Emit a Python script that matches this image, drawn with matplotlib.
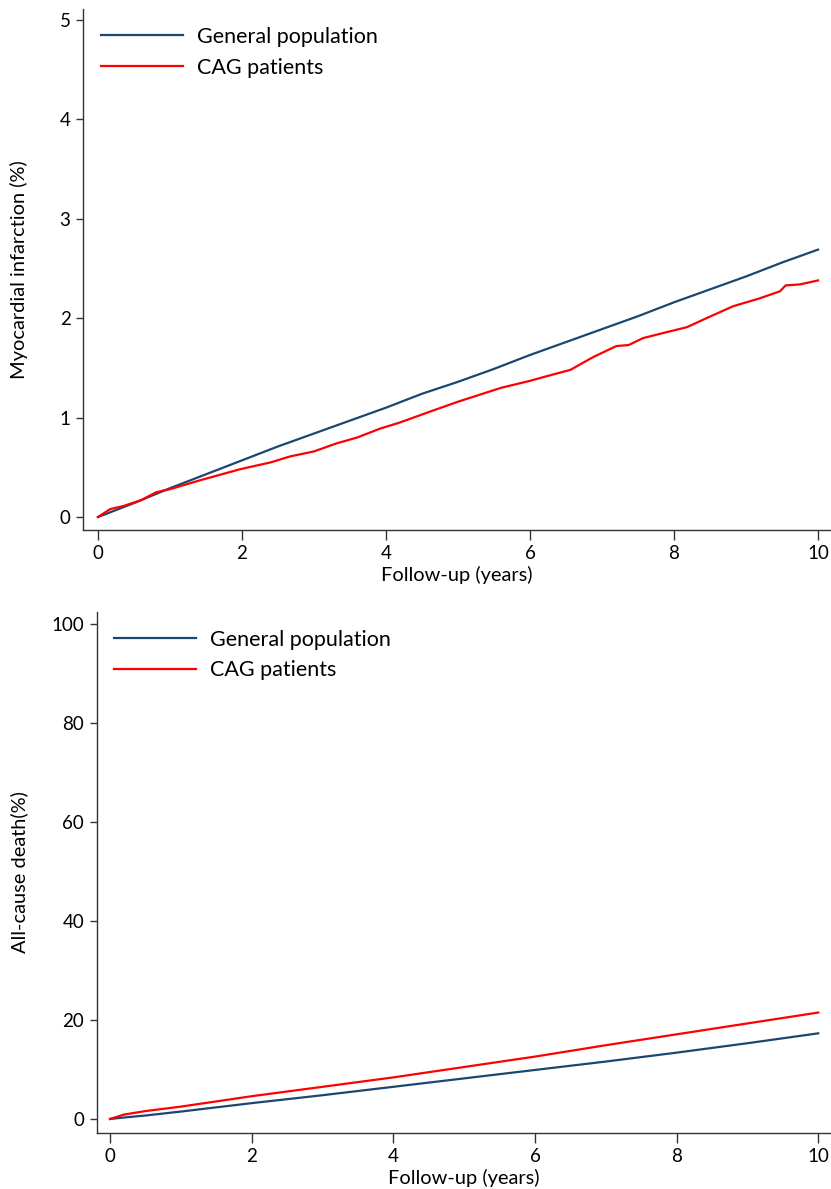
import matplotlib.pyplot as plt

plt.rcParams['font.family'] = ['Lato', 'DejaVu Sans']

# follow-up years and cumulative incidence (%)
mi_gp_years = [0, 0.5, 1, 1.5, 2, 2.5, 3, 3.5, 4, 4.5, 5, 5.5, 6, 6.5, 7, 7.5, 8, 8.5, 9, 9.5, 10]
mi_gp = [0, 0.14, 0.29, 0.43, 0.57, 0.71, 0.84, 0.97, 1.10, 1.24, 1.36, 1.49, 1.63, 1.76, 1.89, 2.02, 2.16, 2.29, 2.42, 2.56, 2.69]

mi_cag_years = [0, 0.17, 0.35, 0.6, 0.81, 1.0, 1.42, 1.97, 2.4, 2.67, 3.0, 3.31, 3.6, 3.92, 4.19, 4.61,
                5.0, 5.3, 5.6, 6.0, 6.3, 6.56, 6.88, 7.2, 7.37, 7.57, 7.9, 8.18, 8.45, 8.82, 9.19, 9.47,
                9.55, 9.75, 10]
mi_cag = [0, 0.08, 0.11, 0.17, 0.25, 0.28, 0.37, 0.48, 0.55, 0.61, 0.66, 0.74, 0.80, 0.89, 0.95, 1.06,
          1.16, 1.23, 1.30, 1.37, 1.43, 1.48, 1.61, 1.72, 1.73, 1.80, 1.86, 1.91, 2.00, 2.12, 2.20, 2.27,
          2.33, 2.34, 2.38]

death_years = [0, 0.2, 0.5, 1, 2, 3, 4, 5, 6, 7, 8, 9, 10]
death_gp = [0, 0.3, 0.7, 1.5, 3.2, 4.8, 6.5, 8.2, 9.9, 11.6, 13.4, 15.3, 17.3]
death_cag = [0, 0.9, 1.6, 2.5, 4.6, 6.5, 8.4, 10.5, 12.6, 14.9, 17.1, 19.3, 21.5]

series_labels = ['General population', 'CAG patients']
blue = '#1a476f'
red = '#ff0000'

fig = plt.figure(figsize=(8.31, 11.89), dpi=100)

panels = [
    dict(rect=[0.0999, 0.5543, 0.9001, 0.4381], xlim=(-0.208, 10.18), ylim=(-0.13, 5.11),
         yticks=[0, 1, 2, 3, 4, 5], ylabel='Myocardial infarction (%)',
         data=[(mi_gp_years, mi_gp), (mi_cag_years, mi_cag)], ylab_x=-0.0735),
    dict(rect=[0.1164, 0.0471, 0.8836, 0.4382], xlim=(-0.188, 10.18), ylim=(-2.83, 102.4),
         yticks=[0, 20, 40, 60, 80, 100], ylabel='All-cause death(%)',
         data=[(death_years, death_gp), (death_years, death_cag)], ylab_x=-0.0936),
]

for p in panels:
    ax = fig.add_axes(p['rect'])
    for (xs, ys), col, lab in zip(p['data'], [blue, red], series_labels):
        ax.plot(xs, ys, color=col, lw=1.6, label=lab)
    ax.set_xlim(*p['xlim'])
    ax.set_ylim(*p['ylim'])
    ax.set_xticks([0, 2, 4, 6, 8, 10])
    ax.set_yticks(p['yticks'])
    for s in ['top', 'right']:
        ax.spines[s].set_visible(False)
    for s in ['left', 'bottom']:
        ax.spines[s].set_color('#333333')
        ax.spines[s].set_linewidth(1.0)
    ax.tick_params(axis='x', length=7.5, width=1.0, color='#333333', pad=3, labelsize=13.5)
    ax.tick_params(axis='y', length=5, width=1.0, color='#333333', pad=4, labelsize=13.5)
    ax.set_xlabel('Follow-up (years)', fontsize=14.4)
    ax.set_ylabel(p['ylabel'], fontsize=14.4)
    ax.xaxis.set_label_coords(0.5, -0.069)
    ax.yaxis.set_label_coords(p['ylab_x'], 0.5)
    ax.legend(loc='upper left', bbox_to_anchor=(0.024, 0.966), frameon=False, fontsize=15.5,
              handlelength=3.8, handletextpad=0.65, labelspacing=0.5, borderpad=0, borderaxespad=0)

fig.savefig('out.png', dpi=100)
